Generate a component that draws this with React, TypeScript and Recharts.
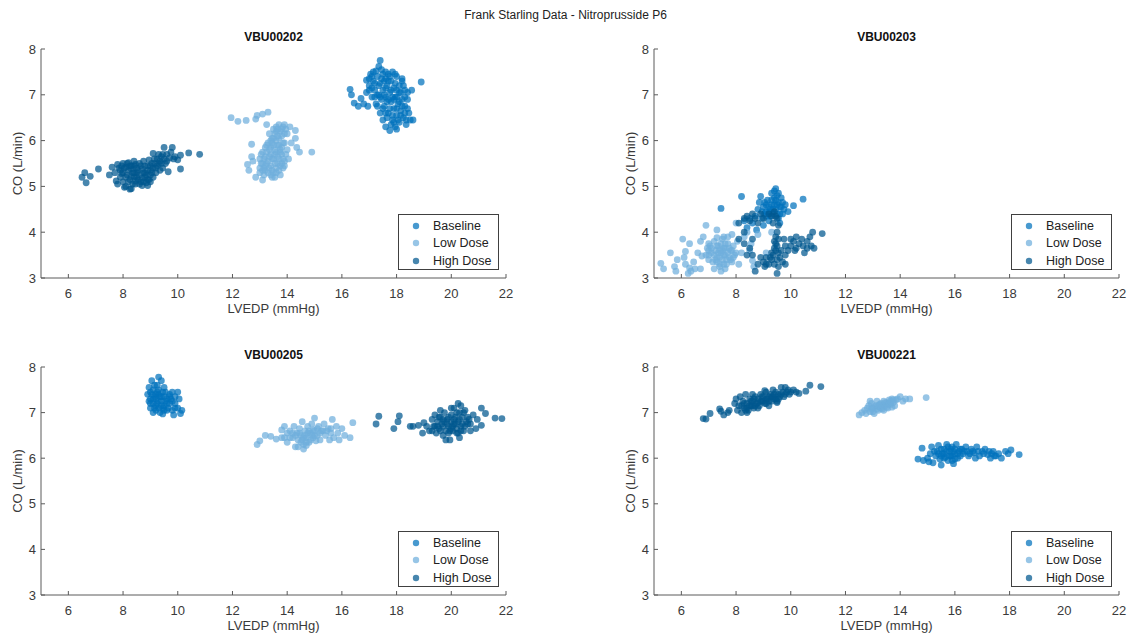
import React from 'react';
import { ScatterChart, Scatter, XAxis, YAxis, Legend } from 'recharts';

// ---------- Data (LVEDP mmHg, CO L/min) ----------
const seriesNames = ['Baseline', 'Low Dose', 'High Dose'];
const seriesColors = ['#0072BD', '#6FAEDD', '#00578F'];
const xTicks = [6, 8, 10, 12, 14, 16, 18, 20, 22];
const yTicks = [3, 4, 5, 6, 7, 8];
const subjectTitles = ['VBU00202', 'VBU00203', 'VBU00205', 'VBU00221'];
const mainTitle = 'Frank Starling Data - Nitroprusside P6';

const base202: number[][] = [
  [17.4,7.75],[17.35,7.62],[17.25,7.52],[16.3,7.12],[16.35,7.0],[16.45,6.82],[16.6,6.75],[16.8,6.8],[16.7,6.92],[16.9,7.05],[16.9,7.32],[17.0,7.2],[17.05,7.45],[17.1,6.95],[17.15,7.3],[17.2,7.1],[17.25,6.8],[17.3,7.4],[17.35,7.0],[17.4,7.25],[17.45,6.9],[17.5,7.45],[17.5,7.1],[17.55,6.75],[17.6,7.35],[17.6,6.95],[17.65,7.2],[17.7,7.45],[17.7,6.6],[17.75,7.05],[17.8,7.3],[17.8,6.85],[17.85,6.45],[17.9,7.15],[17.9,6.7],[17.95,6.3],[18.0,7.4],[18.0,6.95],[18.0,6.55],[18.05,6.8],[18.1,7.2],[18.1,6.4],[18.15,6.65],[18.2,7.35],[18.2,6.9],[18.25,6.5],[18.3,7.1],[18.3,6.75],[18.35,6.35],[18.4,6.9],[18.45,6.6],[18.55,7.1],[18.5,6.45],[18.9,7.28],[17.75,6.22],[17.6,6.3],[17.5,6.45],[17.65,6.5],[17.85,7.5],[17.95,6.95],[18.15,7.05],[17.4,6.6],[17.3,6.75],[16.95,6.75],[17.0,7.35],[17.6,6.6],[18.4,7.05],[18.6,6.45],
  [17.0,7.1],[17.1,7.4],[17.2,7.25],[17.3,7.0],[17.35,7.2],[17.45,7.35],[17.55,7.0],[17.6,7.15],[17.7,7.3],[17.7,6.9],[17.75,6.7],[17.8,7.1],[17.85,6.55],[17.9,6.9],[17.95,7.25],[18.0,6.7],[18.05,6.45],[18.1,6.85],[18.1,7.05],[18.15,6.55],[18.2,6.75],[18.25,7.2],[18.3,6.6],[18.3,6.95],[18.35,6.45],[17.9,6.4],[17.8,6.35],[18.0,6.25],[17.65,6.85],[17.5,6.7],[17.4,6.95],[17.2,6.95],[17.1,7.15],[17.45,7.55],[17.6,7.5],[17.75,7.4],[17.95,7.45],[18.2,7.3],[18.4,6.7],[17.85,6.95],[18.0,7.1],[17.55,7.3],[17.15,7.5]
];
const low202: number[][] = [
  [11.95,6.5],[12.2,6.42],[12.5,6.44],[12.85,6.47],[12.9,6.55],[13.1,6.58],[13.3,6.62],[13.25,6.35],[12.7,5.92],[14.3,6.22],[14.3,6.05],[14.35,5.85],[14.45,5.75],[14.9,5.75],[12.55,5.48],[12.6,5.35],[12.85,5.2],[13.1,5.14],[13.45,5.2],[12.75,5.55],[12.7,5.65],
  [13.0,5.4],[13.1,5.5],[13.2,5.35],[13.3,5.3],[13.4,5.45],[13.5,5.3],[13.6,5.4],[13.7,5.35],[13.8,5.5],[13.0,5.6],[13.1,5.75],[13.2,5.65],[13.3,5.55],[13.4,5.7],[13.5,5.6],[13.6,5.75],[13.7,5.6],[13.8,5.7],[13.9,5.55],[13.2,5.85],[13.3,5.95],[13.4,5.85],[13.5,5.9],[13.6,6.0],[13.7,5.9],[13.8,5.85],[13.9,5.95],[13.45,6.05],[13.55,6.15],[13.65,6.1],[13.75,6.2],[13.85,6.3],[13.6,6.3],[13.7,6.35],[13.95,6.25],[14.0,6.15],[13.5,6.25],[13.9,6.35],[13.35,6.15],[14.0,5.8],[14.05,5.6],[13.0,5.3],[13.15,5.25],[13.55,5.2],[13.75,5.25],[14.1,6.3],[14.15,5.95],
  [13.05,5.5],[13.15,5.4],[13.25,5.5],[13.35,5.4],[13.45,5.35],[13.55,5.5],[13.65,5.5],[13.75,5.45],[13.85,5.4],[13.05,5.7],[13.15,5.6],[13.25,5.75],[13.35,5.65],[13.45,5.6],[13.55,5.7],[13.65,5.65],[13.75,5.75],[13.85,5.6],[13.95,5.7],[13.25,5.9],[13.35,5.8],[13.45,5.95],[13.55,5.8],[13.65,5.9],[13.75,5.8],[13.85,5.95],[13.5,6.05],[13.6,6.2],[13.7,6.05],[13.8,6.1],[13.9,6.15],[13.4,6.0],[13.65,6.25],[13.8,6.25],[13.2,5.45],[13.4,5.25],[13.6,5.3],[13.9,5.45],[13.1,5.35]
];
const high202: number[][] = [
  [6.5,5.2],[6.6,5.3],[6.65,5.08],[6.8,5.22],[7.1,5.38],[7.5,5.25],[7.6,5.42],
  [7.8,5.48],[7.9,5.35],[7.9,5.2],[8.0,5.5],[8.0,5.3],[8.0,5.1],[8.1,5.42],[8.1,5.0],[8.15,5.25],[8.2,5.52],[8.2,5.35],[8.25,5.15],[8.3,4.95],[8.3,5.45],[8.35,5.3],[8.4,5.55],[8.4,5.2],[8.45,5.05],[8.5,5.4],[8.5,5.3],[8.55,5.15],[8.6,5.5],[8.6,5.25],[8.65,5.1],[8.7,5.38],[8.7,5.02],[8.75,5.55],[8.8,5.2],[8.8,5.3],[8.85,5.08],[8.9,5.45],[8.9,5.15],[8.95,5.58],[9.0,5.35],[9.0,5.25],[9.05,5.5],[9.1,5.4],[9.1,5.72],[9.15,5.6],[9.2,5.3],[9.25,5.45],[9.3,5.7],[9.35,5.55],[9.4,5.65],[9.45,5.4],[9.5,5.85],[9.5,5.6],[9.55,5.5],[9.6,5.7],[9.65,5.32],[9.7,5.62],[9.75,5.75],[9.8,5.85],[9.85,5.6],[9.9,5.65],[10.0,5.58],[10.1,5.38],[10.1,5.68],[10.4,5.73],[10.8,5.7],
  [7.7,5.3],[7.75,5.12],[7.8,5.05],[8.05,4.98],[8.25,4.94],[8.4,5.45],[8.9,5.02],[9.0,5.1],
  [7.85,5.4],[7.95,5.28],[8.05,5.4],[8.1,5.2],[8.15,5.5],[8.2,5.1],[8.3,5.38],[8.3,5.22],[8.35,5.05],[8.4,5.3],[8.45,5.48],[8.5,5.2],[8.55,5.35],[8.6,5.05],[8.65,5.45],[8.7,5.18],[8.75,5.3],[8.8,5.45],[8.85,5.25],[8.9,5.35],[8.95,5.15],[9.0,5.45],[9.05,5.3],[9.1,5.2],[9.15,5.5],[9.2,5.4],[9.3,5.5],[9.35,5.35],[9.4,5.5],[9.25,5.6],[9.45,5.7],[9.6,5.55],[7.95,5.45],[8.25,5.45],[8.45,5.12],[8.75,5.1]
];

const base203: number[][] = [
  [7.45,4.52],[8.2,4.78],[8.5,4.3],[8.7,4.35],[8.8,4.5],[8.85,4.65],[8.9,4.78],[8.95,4.3],[9.0,4.55],[9.05,4.4],[9.1,4.6],[9.15,4.7],[9.2,4.45],[9.25,4.35],[9.3,4.85],[9.3,4.6],[9.35,4.5],[9.4,4.9],[9.45,4.7],[9.5,4.6],[9.5,4.4],[9.55,4.85],[9.6,4.55],[9.65,4.75],[9.7,4.65],[9.75,4.5],[9.8,4.6],[9.9,4.45],[10.1,4.58],[10.45,4.72],[9.0,4.15],[9.2,4.25],[8.6,4.2],[8.4,4.1],[8.3,4.25],[9.45,4.95],[9.1,4.35],[8.75,4.05],[9.55,4.3],[9.6,4.2],
  [9.2,4.55],[9.3,4.7],[9.35,4.4],[9.4,4.6],[9.45,4.5],[9.55,4.65],[9.6,4.4],[9.65,4.55],[9.25,4.5],[9.1,4.45],[8.95,4.45],[9.4,4.75],[9.5,4.8],[9.7,4.4],[9.05,4.65]
];
const low203: number[][] = [
  [5.25,3.32],[5.35,3.2],[5.6,3.55],[5.75,3.25],[5.85,3.4],[5.8,3.15],[6.05,3.85],[6.1,3.45],[6.15,3.3],[6.25,3.1],[6.3,3.75],[6.3,3.22],[6.45,3.35],[6.5,3.2],[6.6,3.55],[6.7,3.8],[6.75,3.48],[6.8,3.9],[6.9,4.15],[7.0,3.6],[7.3,4.05],[7.55,3.9],[8.1,3.3],[8.3,3.9],[8.5,3.6],[8.55,3.75],[8.6,3.38],[8.65,3.25],[8.8,3.95],[9.1,3.55],[9.3,4.0],[8.0,4.2],[8.4,4.0],[6.35,3.15],[6.15,3.58],[6.7,3.2],
  [6.9,3.5],[7.0,3.4],[7.05,3.7],[7.1,3.55],[7.15,3.35],[7.2,3.8],[7.25,3.6],[7.3,3.45],[7.35,3.7],[7.4,3.3],[7.45,3.55],[7.5,3.85],[7.5,3.4],[7.55,3.65],[7.6,3.5],[7.65,3.3],[7.7,3.75],[7.75,3.45],[7.8,3.6],[7.85,3.35],[7.9,3.7],[7.95,3.5],[8.0,3.55],[7.2,3.2],[7.4,3.25],[7.6,3.2],[7.7,3.9],[7.3,3.88],[7.0,3.75],[8.05,3.8],[8.2,3.55],[7.85,3.95],[7.45,3.15],
  [7.1,3.65],[7.2,3.5],[7.25,3.4],[7.3,3.7],[7.35,3.55],[7.4,3.45],[7.45,3.75],[7.5,3.6],[7.55,3.5],[7.6,3.65],[7.65,3.4],[7.7,3.55],[7.75,3.65],[7.8,3.4],[7.85,3.6],[7.9,3.45],[7.3,3.35],[7.55,3.3],[7.0,3.5],[6.95,3.65],[7.4,3.6],[7.6,3.75]
];
const high203: number[][] = [
  [8.1,4.2],[8.3,4.3],[8.4,4.35],[8.5,4.25],[8.6,4.4],[8.7,4.3],[8.8,4.2],[8.9,4.4],[9.0,4.3],[9.2,4.4],[9.3,4.35],[9.4,4.45],[9.5,4.3],[9.55,4.15],
  [9.5,4.0],[9.45,3.9],[9.4,3.8],[9.5,3.7],[9.45,3.6],[9.35,3.5],[9.55,3.55],[9.3,3.4],[9.6,3.45],[9.2,3.3],[9.4,3.3],[9.7,3.35],[9.0,3.35],[8.9,3.45],[8.8,3.3],[9.1,3.45],[9.55,3.25],[9.8,3.5],[9.3,3.55],[9.05,3.25],[8.7,3.15],
  [9.9,3.6],[10.0,3.7],[10.1,3.8],[10.2,3.65],[10.3,3.75],[10.4,3.85],[10.5,3.55],[10.6,3.8],[10.7,3.9],[10.75,3.7],[10.8,4.0],[10.85,3.65],[11.15,3.97],[10.2,3.9],[10.0,3.85],[9.8,3.7],[9.75,3.85],
  [8.1,3.85],[8.3,3.75],[8.5,3.65],[8.6,3.5],[8.4,3.5],[8.6,3.85],[8.3,4.0],[9.5,3.1],[9.8,3.3],
  [9.35,4.2],[9.45,4.35],[9.45,3.75],[9.55,3.85],[9.4,3.65],[9.25,3.45],[9.5,3.4],[9.1,3.3],[9.65,3.6],[10.15,3.6],[10.45,3.7],[10.6,3.65]
];

const base205: number[][] = [
  [9.05,7.7],[9.15,7.6],[9.3,7.78],[9.4,7.7],[9.5,7.55],[9.0,7.45],[9.1,7.5],[9.2,7.4],[9.3,7.5],[9.4,7.35],[9.55,7.45],[9.7,7.4],[9.8,7.45],[9.9,7.35],[10.0,7.45],[8.9,7.4],[9.0,7.3],[9.1,7.2],[9.2,7.3],[9.3,7.1],[9.4,7.25],[9.5,7.15],[9.6,7.3],[9.7,7.2],[9.8,7.05],[9.9,7.2],[10.0,7.1],[10.15,7.05],[9.0,7.1],[9.1,7.0],[9.2,7.05],[9.35,7.0],[9.45,6.97],[9.6,7.05],[9.85,6.95],[10.1,6.98],[8.95,7.25],[9.25,7.2],[9.55,7.25],[9.65,7.1],[9.15,7.35],[9.45,7.45],[9.75,7.3],[10.05,7.3],[9.25,7.6],[8.95,7.55],
  [9.1,7.3],[9.2,7.15],[9.3,7.25],[9.3,7.4],[9.4,7.15],[9.5,7.35],[9.5,7.05],[9.6,7.2],[9.7,7.35],[9.8,7.25],[9.05,7.4],[9.15,7.1],[9.35,7.35],[9.45,7.1],[9.25,7.45],[9.9,7.1],[9.0,7.2]
];
const low205: number[][] = [
  [12.9,6.3],[13.0,6.38],[13.2,6.5],[13.4,6.48],[13.6,6.42],[13.8,6.45],[13.8,6.62],[13.9,6.7],[14.0,6.55],[14.0,6.35],[14.1,6.6],[14.2,6.45],[14.25,6.7],[14.3,6.25],[14.35,6.55],[14.4,6.4],[14.45,6.65],[14.5,6.5],[14.55,6.8],[14.6,6.3],[14.6,6.2],[14.65,6.6],[14.7,6.45],[14.75,6.7],[14.8,6.35],[14.85,6.55],[14.9,6.75],[14.95,6.45],[15.0,6.88],[15.0,6.6],[15.1,6.5],[15.15,6.7],[15.2,6.4],[15.3,6.6],[15.35,6.75],[15.4,6.5],[15.5,6.65],[15.6,6.55],[15.65,6.85],[15.7,6.45],[15.8,6.7],[15.85,6.55],[15.9,6.4],[16.0,6.65],[16.1,6.5],[16.3,6.45],[16.4,6.78],[14.4,6.25],[14.7,6.28],[13.9,6.45],[14.2,6.55],[14.55,6.4],[15.05,6.38],[15.25,6.6],[15.55,6.4],
  [14.3,6.5],[14.45,6.55],[14.6,6.45],[14.65,6.5],[14.75,6.55],[14.8,6.6],[14.9,6.5],[15.0,6.5],[15.1,6.65],[15.2,6.55],[14.5,6.35],[14.7,6.35],[14.85,6.4],[15.45,6.6],[15.6,6.65],[14.1,6.45],[14.95,6.62]
];
const high205: number[][] = [
  [17.25,6.75],[17.35,6.92],[17.9,6.65],[18.05,6.8],[18.1,6.93],[18.5,6.7],[18.6,6.7],[18.8,6.72],[18.95,6.55],[19.0,6.78],[21.6,6.88],[21.85,6.87],[21.25,6.98],[21.1,7.1],[21.1,6.72],
  [19.2,6.6],[19.3,6.85],[19.35,6.7],[19.4,6.95],[19.45,6.55],[19.5,6.8],[19.55,6.65],[19.6,6.9],[19.65,6.75],[19.7,6.5],[19.75,7.0],[19.8,6.6],[19.85,6.85],[19.9,6.7],[19.95,6.4],[20.0,6.95],[20.0,6.8],[20.05,6.6],[20.1,7.1],[20.1,6.75],[20.15,6.9],[20.2,6.55],[20.25,7.2],[20.25,6.8],[20.3,7.0],[20.35,6.7],[20.4,6.9],[20.45,6.6],[20.5,7.05],[20.55,6.8],[20.6,6.9],[20.7,6.75],[20.8,6.95],[20.9,6.65],[20.7,6.6],[19.8,6.4],[20.3,6.45],[19.6,7.05],[20.0,7.1],[19.4,6.7],[20.2,6.65],[20.5,6.7],[19.7,6.85],[19.1,6.7],[20.95,6.85],[20.35,7.15],
  [19.5,6.7],[19.6,6.6],[19.7,6.7],[19.75,6.8],[19.85,6.75],[19.9,6.9],[19.95,6.6],[20.05,6.7],[20.1,6.85],[20.15,6.75],[20.2,7.0],[20.3,6.85],[20.35,6.6],[20.4,6.75],[20.45,7.0],[20.6,6.75],[19.55,6.9],[19.9,6.55],[20.25,6.55],[20.65,6.85],[19.3,6.6],[20.0,6.65]
];

const base221: number[][] = [
  [14.65,5.98],[14.8,6.22],[14.85,5.95],[15.0,6.0],[15.1,6.1],[15.15,6.25],[15.2,5.9],[15.3,6.05],[15.35,6.15],[15.4,6.28],[15.45,5.98],[15.5,5.85],[15.55,6.1],[15.6,6.2],[15.65,6.02],[15.7,6.3],[15.75,5.95],[15.8,6.15],[15.85,6.05],[15.9,6.25],[15.95,5.88],[16.0,6.1],[16.05,6.3],[16.1,6.0],[16.2,6.2],[16.3,6.1],[16.4,6.25],[16.5,6.05],[16.6,6.2],[16.7,6.12],[16.8,6.25],[16.9,6.05],[17.0,6.15],[17.1,6.2],[17.2,6.08],[17.3,6.0],[17.4,6.15],[17.5,6.05],[17.6,6.1],[17.7,6.0],[17.85,6.15],[17.95,6.1],[18.05,6.18],[18.35,6.08],[15.25,6.15],[15.6,6.0],[16.15,6.15],[16.75,6.0],[15.9,5.95],[15.05,5.92],
  [15.4,6.1],[15.5,6.2],[15.6,6.1],[15.7,6.15],[15.75,6.25],[15.8,6.05],[15.85,6.2],[15.95,6.15],[16.0,6.2],[16.1,6.1],[16.2,6.05],[16.25,6.2],[16.35,6.15],[16.45,6.15],[16.55,6.1],[16.65,6.15],[16.85,6.15],[17.05,6.1],[17.25,6.15],[17.35,6.1],[17.45,6.05],[15.9,6.05],[16.0,5.98],[15.5,6.05]
];
const low221: number[][] = [
  [12.5,6.95],[12.6,7.0],[12.7,7.05],[12.75,6.98],[12.8,7.1],[12.85,7.15],[12.9,7.02],[12.95,7.2],[13.0,7.1],[13.05,6.98],[13.1,7.15],[13.15,7.25],[13.2,7.05],[13.25,7.12],[13.3,7.2],[13.35,7.08],[13.4,7.25],[13.45,7.15],[13.5,7.22],[13.55,7.1],[13.6,7.28],[13.65,7.18],[13.7,7.3],[13.75,7.22],[13.8,7.15],[13.85,7.28],[13.9,7.3],[14.0,7.35],[14.1,7.25],[14.2,7.3],[14.35,7.3],[14.95,7.33],[13.0,7.02],[13.4,7.05],[13.7,7.12],[12.9,7.25],
  [13.05,7.12],[13.15,7.08],[13.25,7.18],[13.35,7.15],[13.45,7.22],[13.55,7.18],[13.65,7.25],[13.75,7.28],[13.5,7.12],[13.3,7.1],[12.95,7.08],[13.2,7.15],[13.6,7.2]
];
const high221: number[][] = [
  [6.8,6.87],[6.9,6.86],[7.05,6.98],[7.4,7.08],[7.45,7.03],[7.55,6.95],[7.7,7.0],[7.75,7.05],[7.95,7.2],[8.0,7.3],[8.05,7.05],[8.1,7.15],[8.2,7.0],[8.25,7.25],[8.3,7.1],[8.35,7.4],[8.4,7.2],[8.45,7.05],[8.5,7.3],[8.55,7.15],[8.6,7.25],[8.65,7.1],[8.7,7.35],[8.75,7.2],[8.8,7.3],[8.85,7.15],[8.9,7.4],[8.95,7.25],[9.0,7.35],[9.05,7.2],[9.1,7.45],[9.15,7.3],[9.2,7.25],[9.25,7.4],[9.3,7.35],[9.35,7.5],[9.4,7.3],[9.45,7.45],[9.5,7.25],[9.55,7.4],[9.6,7.35],[9.65,7.55],[9.7,7.45],[9.8,7.4],[9.9,7.5],[10.0,7.45],[10.1,7.5],[10.2,7.45],[10.3,7.42],[10.55,7.47],[10.7,7.6],[11.1,7.57],[8.4,7.0],[8.8,7.1],[9.2,7.15],[9.5,7.22],[8.15,7.35],[8.6,7.4],[9.05,7.48],[9.8,7.55],
  [8.3,7.2],[8.4,7.1],[8.5,7.15],[8.55,7.25],[8.65,7.3],[8.7,7.15],[8.8,7.22],[8.9,7.25],[8.95,7.35],[9.0,7.25],[9.1,7.3],[9.2,7.35],[9.3,7.25],[9.35,7.35],[9.45,7.3],[9.55,7.3],[9.65,7.4],[9.75,7.35],[9.85,7.45],[9.95,7.4],[8.2,7.15],[8.35,7.05],[8.6,7.15],[9.4,7.4],[9.1,7.2]
];

const subjectSeries = [
  [base202, low202, high202],
  [base203, low203, high203],
  [base205, low205, high205],
  [base221, low221, high221],
];

// ---------- Layout ----------
const FONT = '"Liberation Sans", Arial, Helvetica, sans-serif';
const AXIS_COLOR = '#5a5a5a';
const TEXT_COLOR = '#3a3a3a';
const CW = 565;
const CH = 320;
const panels = [
  { left: 0, top: 0, margin: { top: 49, right: 59, bottom: 2, left: 0 } },
  { left: 565, top: 0, margin: { top: 49, right: 11, bottom: 2, left: 48 } },
  { left: 0, top: 320, margin: { top: 47, right: 59, bottom: 5, left: 0 } },
  { left: 565, top: 320, margin: { top: 47, right: 11, bottom: 5, left: 48 } },
];

const toPoints = (arr: number[][]) => arr.map(([x, y]) => ({ x, y }));

const XTick = (props: any) => {
  const { x, y, payload } = props;
  return (
    <g>
      <line x1={x} x2={x} y1={y} y2={y - 4} stroke={AXIS_COLOR} strokeWidth={1} />
      <text x={x} y={y + 20} textAnchor="middle" fontSize={13} fill={TEXT_COLOR} fontFamily={FONT}>
        {payload.value}
      </text>
    </g>
  );
};

const YTick = (props: any) => {
  const { x, y, payload } = props;
  return (
    <g>
      <line x1={x} x2={x + 4} y1={y} y2={y} stroke={AXIS_COLOR} strokeWidth={1} />
      <text x={x - 5} y={y + 4.5} textAnchor="end" fontSize={13} fill={TEXT_COLOR} fontFamily={FONT}>
        {payload.value}
      </text>
    </g>
  );
};

const XLabel = (props: any) => {
  const vb = props.viewBox || {};
  return (
    <text x={vb.x + vb.width / 2} y={vb.y + 35} textAnchor="middle" fontSize={13} fill={TEXT_COLOR} fontFamily={FONT}>
      LVEDP (mmHg)
    </text>
  );
};

const YLabel = (props: any) => {
  const vb = props.viewBox || {};
  const cx = vb.x + 22;
  const cy = vb.y + vb.height / 2;
  return (
    <text x={cx} y={cy} transform={`rotate(-90 ${cx} ${cy})`} textAnchor="middle" fontSize={13} fill={TEXT_COLOR} fontFamily={FONT}>
      CO (L/min)
    </text>
  );
};

const makeShape = (color: string) => (p: any) => (
  <circle cx={p.cx} cy={p.cy} r={3.4} fill={color} fillOpacity={0.72} stroke="none" />
);

const LegendBox = () => (
  <div
    style={{
      width: 101,
      height: 56,
      boxSizing: 'border-box',
      border: '1px solid #404040',
      background: '#fff',
      fontFamily: FONT,
      fontSize: 12.5,
      color: '#222',
      paddingTop: 2,
    }}
  >
    {seriesNames.map((n, i) => (
      <div key={n} style={{ display: 'flex', alignItems: 'center', height: 17.5 }}>
        <svg width={30} height={12} style={{ flex: 'none' }}>
          <circle cx={17} cy={6} r={3.2} fill={seriesColors[i]} fillOpacity={0.72} />
        </svg>
        <span style={{ marginLeft: 4, whiteSpace: 'nowrap' }}>{n}</span>
      </div>
    ))}
  </div>
);

const Panel = ({ idx }: { idx: number }) => {
  const p = panels[idx];
  const plotLeft = p.margin.left + 41;
  const plotRight = CW - p.margin.right;
  const plotTop = p.margin.top;
  const plotBottom = CH - p.margin.bottom - 40;
  return (
    <div style={{ position: 'absolute', left: p.left, top: p.top, width: CW, height: CH }}>
      <div
        style={{
          position: 'absolute',
          left: plotLeft,
          width: plotRight - plotLeft,
          top: plotTop - 19,
          lineHeight: '14px',
          textAlign: 'center',
          fontFamily: FONT,
          fontWeight: 'bold',
          fontSize: 12,
          color: '#111',
        }}
      >
        {subjectTitles[idx]}
      </div>
      <ScatterChart width={CW} height={CH} margin={p.margin}>
        <XAxis
          type="number"
          dataKey="x"
          domain={[5, 22]}
          ticks={xTicks}
          interval={0}
          height={40}
          tickSize={0}
          tickMargin={0}
          tickLine={false}
          axisLine={{ stroke: AXIS_COLOR }}
          tick={<XTick />}
          allowDataOverflow
          label={{ content: <XLabel /> }}
        />
        <YAxis
          type="number"
          dataKey="y"
          domain={[3, 8]}
          ticks={yTicks}
          interval={0}
          width={41}
          tickSize={0}
          tickMargin={0}
          tickLine={false}
          axisLine={{ stroke: AXIS_COLOR }}
          tick={<YTick />}
          allowDataOverflow
          label={{ content: <YLabel /> }}
        />
        {subjectSeries[idx].map((arr, i) => (
          <Scatter
            key={seriesNames[i]}
            name={seriesNames[i]}
            data={toPoints(arr)}
            fill={seriesColors[i]}
            shape={makeShape(seriesColors[i])}
            isAnimationActive={false}
          />
        ))}
        <Legend
          layout="vertical"
          align="center"
          verticalAlign="middle"
          content={() => <LegendBox />}
          wrapperStyle={{ position: 'absolute', left: plotRight - 7 - 101, top: plotBottom - 8 - 56, width: 101, height: 56 }}
        />
      </ScatterChart>
    </div>
  );
};

export default function App() {
  return (
    <div
      style={{
        position: 'absolute',
        left: 0,
        top: 0,
        width: 1131,
        height: 641,
        background: '#fff',
        fontFamily: FONT,
        overflow: 'hidden',
      }}
    >
      <div
        style={{
          position: 'absolute',
          left: 0,
          width: 1131,
          top: 8,
          lineHeight: '14px',
          textAlign: 'center',
          fontSize: 12,
          color: '#222',
          fontFamily: FONT,
        }}
      >
        {mainTitle}
      </div>
      {[0, 1, 2, 3].map((i) => (
        <Panel key={i} idx={i} />
      ))}
    </div>
  );
}
